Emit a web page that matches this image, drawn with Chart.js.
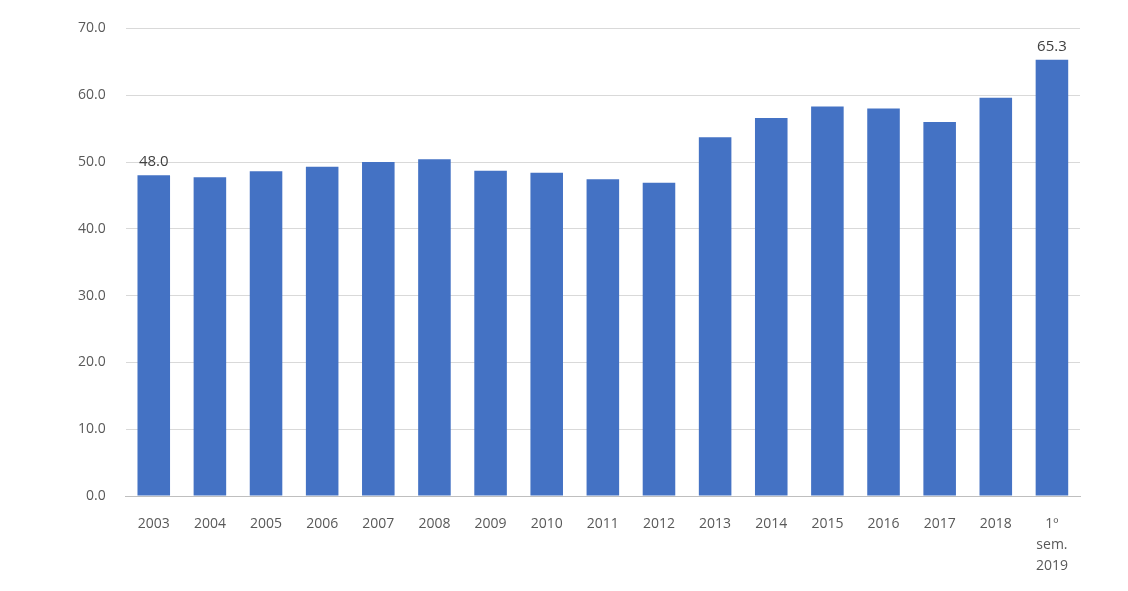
<!DOCTYPE html>
<html><head><meta charset="utf-8">
<script src="https://cdn.jsdelivr.net/npm/chart.js@4/dist/chart.umd.min.js"></script>
<style>html,body{margin:0;padding:0;background:#fff}#w{width:1128px;height:591px}</style>
</head><body><div id="w"><canvas id="c"></canvas></div>
<script>
const categories=['2003','2004','2005','2006','2007','2008','2009','2010','2011','2012','2013','2014','2015','2016','2017','2018',['1º','sem.','2019']];
const values=[48.0,47.7,48.6,49.3,50.0,50.4,48.7,48.4,47.4,46.9,53.7,56.6,58.3,58.0,56.0,59.6,65.3];
const labeledIdx=[0,16];
const lbl={id:'lbl',afterDatasetsDraw(ch){const c=ch.ctx;const m=ch.getDatasetMeta(0);c.save();c.font='15px "Open Sans"';c.fillStyle='#404040';c.textAlign='center';c.textBaseline='bottom';labeledIdx.forEach(i=>{const b=m.data[i];c.fillText(values[i].toFixed(1),b.x,b.y-6);});c.restore();}};
new Chart(document.getElementById('c'),{type:'bar',data:{labels:categories,datasets:[{data:values,backgroundColor:'#4472C4',barPercentage:0.58,categoryPercentage:1}]},
options:{responsive:true,maintainAspectRatio:false,animation:false,layout:{padding:{left:58,right:48,top:-17,bottom:4}},
plugins:{legend:{display:false},tooltip:{enabled:false}},
scales:{y:{min:0,max:70,ticks:{stepSize:10,callback:v=>v.toFixed(1),color:'#595959',font:{size:14,family:'Open Sans'},padding:20},grid:{color:'#d9d9d9',drawTicks:false},border:{display:false}},
x:{ticks:{color:'#595959',font:{size:14,family:'Open Sans',lineHeight:1.5},maxRotation:0,autoSkip:false,padding:10},grid:{display:false},border:{color:'#bfbfbf'}}}},plugins:[lbl]});
</script></body></html>
